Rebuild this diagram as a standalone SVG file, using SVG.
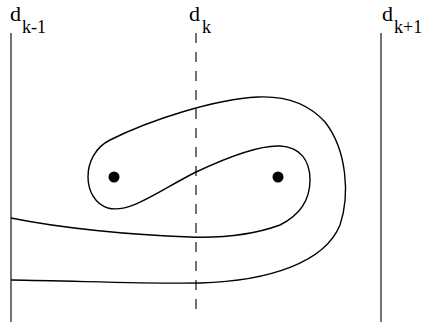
<svg xmlns="http://www.w3.org/2000/svg" width="422" height="322" viewBox="0 0 422 322">
<style>
.lab{font-family:"Liberation Serif",serif;fill:#000}
.d{font-size:22px}
.s{font-size:18px}
.bar{stroke:#444;stroke-width:1.5;fill:none}
.curve{stroke:#000;stroke-width:1.4;fill:none}
</style>
<rect width="422" height="322" fill="#fff"/>
<g id="line-dk-1">
<line class="bar" x1="11" y1="33" x2="11" y2="322"/>
<text class="lab d" x="10" y="21">d</text><text class="lab s" x="22" y="33">k-1</text>
</g>
<g id="line-dk">
<line class="bar" x1="196" y1="33" x2="196" y2="312" stroke-dasharray="10,9"/>
<text class="lab d" x="189" y="21">d</text><text class="lab s" x="202" y="33">k</text>
</g>
<g id="line-dk+1">
<line class="bar" x1="381" y1="33" x2="381" y2="322"/>
<text class="lab d" x="382" y="21">d</text><text class="lab s" x="394" y="33">k+1</text>
</g>
<g id="connectors">
<path class="curve" d="M11,280 C80,281 150,284 200,283 C270,281 325,262 340,225 C350,195 347,150 325,122 C305,100 280,96 258,97 C215,99 150,120 110,140 C80,155 82,200 108,208 C130,214 160,190 196,172 C230,156 260,145 280,146 C300,147 310,160 310,180 C310,200 300,215 280,225 C250,236 220,238 190,237 C130,235 60,228 11,218"/>
</g>
<g id="dot-left"><circle cx="114" cy="177" r="5.5" fill="#000"/></g>
<g id="dot-right"><circle cx="278" cy="177" r="5.5" fill="#000"/></g>
</svg>
